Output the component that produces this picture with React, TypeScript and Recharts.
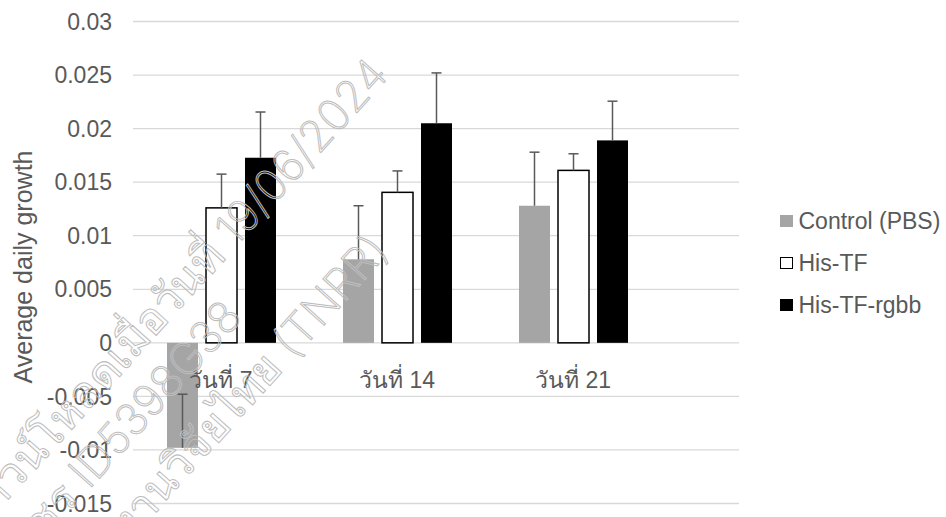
import React from 'react';
import { BarChart, Bar, XAxis, YAxis, CartesianGrid } from 'recharts';

// ---------- data ----------
const categories = ['วันที่ 7', 'วันที่ 14', 'วันที่ 21'];
const seriesNames = ['Control (PBS)', 'His-TF', 'His-TF-rgbb'];
const controlValues = [-0.0098, 0.0078, 0.0128];
const controlErrors = [0.005, 0.005, 0.005];
const hisTfValues = [0.0126, 0.01405, 0.0161];
const hisTfErrors = [0.00315, 0.002, 0.00155];
const rgbbValues = [0.01728, 0.0205, 0.0189];
const rgbbErrors = [0.00427, 0.0047, 0.00366];
const yTicks = [-0.015, -0.01, -0.005, 0, 0.005, 0.01, 0.015, 0.02, 0.025, 0.03];
const yTitle = 'Average daily growth';
const watermarkLines = [
  'ดาวน์โหลดเมื่อวันที่ 19/06/2024',
  'โดย พชร ID5398G38',
  'คลังผลงานวิจัยไทย (TNRR)',
];

// ---------- layout / style ----------
const W = 946;
const H = 517;
const M_TOP = 21.5;
const M_BOTTOM = 12.5;
const X_AXIS_H = 1;
const M_RIGHT = 207;
const Y_AXIS_W = 133;
const PLOT_H = H - M_TOP - M_BOTTOM - X_AXIS_H;
const Y_MIN = yTicks[0];
const Y_MAX = yTicks[yTicks.length - 1];
const TEXT = '#595959';
const FONT = '"Liberation Sans", Arial, sans-serif';
const colors = ['#A5A5A5', '#FFFFFF', '#000000'];

const data = categories.map((c, i) => ({
  name: c,
  control: controlValues[i],
  hisTf: hisTfValues[i],
  rgbb: rgbbValues[i],
}));

const makeShape = (fill: string, stroke: string, sw: number, values: number[], errors: number[]) =>
  (props: any) => {
    const { x, y, width, height, index } = props;
    const v = values[index];
    const err = errors[index];
    const top = Math.min(y, y + height);
    const h = Math.abs(height);
    const pxPerUnit = v !== 0 ? h / Math.abs(v) : 0;
    const endY = v >= 0 ? top : top + h;
    const errY = endY - err * pxPerUnit;
    const cx = x + width / 2;
    return (
      <g>
        <rect x={x} y={top} width={width} height={h} fill={fill} stroke={stroke} strokeWidth={sw} />
        <line x1={cx} y1={endY} x2={cx} y2={errY} stroke={TEXT} strokeWidth={1.5} />
        <line x1={cx - 5} y1={errY} x2={cx + 5} y2={errY} stroke={TEXT} strokeWidth={1.5} />
      </g>
    );
  };

const zeroY = M_TOP + ((Y_MAX - 0) / (Y_MAX - Y_MIN)) * PLOT_H;

const renderCategoryTick = (props: any) => {
  const { x, payload } = props;
  return (
    <text x={x} y={zeroY + 37} dy="0.355em" textAnchor="middle" fill={TEXT} fontSize={23} fontFamily={FONT}>
      {payload.value}
    </text>
  );
};

const legendMarkers = [
  { fill: colors[0], border: 'none' },
  { fill: '#FFFFFF', border: '1.5px solid #000' },
  { fill: '#000000', border: 'none' },
];

export default function App() {
  return (
    <div style={{ position: 'absolute', left: 0, top: 0, width: W, height: H, background: '#fff' }}>
      <BarChart
        width={W}
        height={H}
        data={data}
        margin={{ top: M_TOP, right: M_RIGHT, bottom: M_BOTTOM, left: 0 }}
        barSize={31}
        barGap={8}
      >
        <CartesianGrid vertical={false} stroke="#D9D9D9" strokeWidth={1.3} />
        <XAxis
          dataKey="name"
          height={X_AXIS_H}
          axisLine={false}
          tickLine={false}
          padding={{ left: 0, right: 78 }}
          tick={renderCategoryTick}
          interval={0}
        />
        <YAxis
          width={Y_AXIS_W}
          domain={[Y_MIN, Y_MAX]}
          ticks={yTicks}
          axisLine={false}
          tickLine={false}
          tickSize={0}
          tickMargin={21}
          interval={0}
          tickFormatter={(v: number) => String(v)}
          tick={{ fill: TEXT, fontSize: 23, fontFamily: FONT }}
        />
        <Bar dataKey="control" isAnimationActive={false}
          shape={makeShape(colors[0], 'none', 0, controlValues, controlErrors)} />
        <Bar dataKey="hisTf" isAnimationActive={false}
          shape={makeShape(colors[1], '#000', 1.5, hisTfValues, hisTfErrors)} />
        <Bar dataKey="rgbb" isAnimationActive={false}
          shape={makeShape(colors[2], 'none', 0, rgbbValues, rgbbErrors)} />
      </BarChart>

      {/* legend */}
      <div style={{ position: 'absolute', left: 780, top: 200, fontFamily: FONT, fontSize: 23, color: TEXT }}>
        {seriesNames.map((n, i) => (
          <div key={n} style={{ display: 'flex', alignItems: 'center', height: 42, whiteSpace: 'nowrap' }}>
            <span style={{ display: 'inline-block', width: 12.5, height: 12.5, boxSizing: 'border-box', background: legendMarkers[i].fill, border: legendMarkers[i].border, marginRight: 6 }} />
            <span>{n}</span>
          </div>
        ))}
      </div>

      {/* y-axis title and watermark */}
      <svg width={W} height={H} style={{ position: 'absolute', left: 0, top: 0, pointerEvents: 'none' }}>
        <text transform={`translate(32, 267) rotate(-90)`} textAnchor="middle" fill={TEXT} fontSize={25} fontFamily={FONT}>
          {yTitle}
        </text>
        <g fill="none" stroke="#bdbdbd" strokeWidth={1} fontSize={44} fontFamily='Inter, "Liberation Sans", sans-serif' fontWeight={200} textAnchor="end">
          <text transform="translate(390, 76) rotate(-48)">{watermarkLines[0]}</text>
          <text transform="translate(244, 318) rotate(-48)">{watermarkLines[1]}</text>
          <text transform="translate(390, 252) rotate(-48)">{watermarkLines[2]}</text>
        </g>
      </svg>
    </div>
  );
}
